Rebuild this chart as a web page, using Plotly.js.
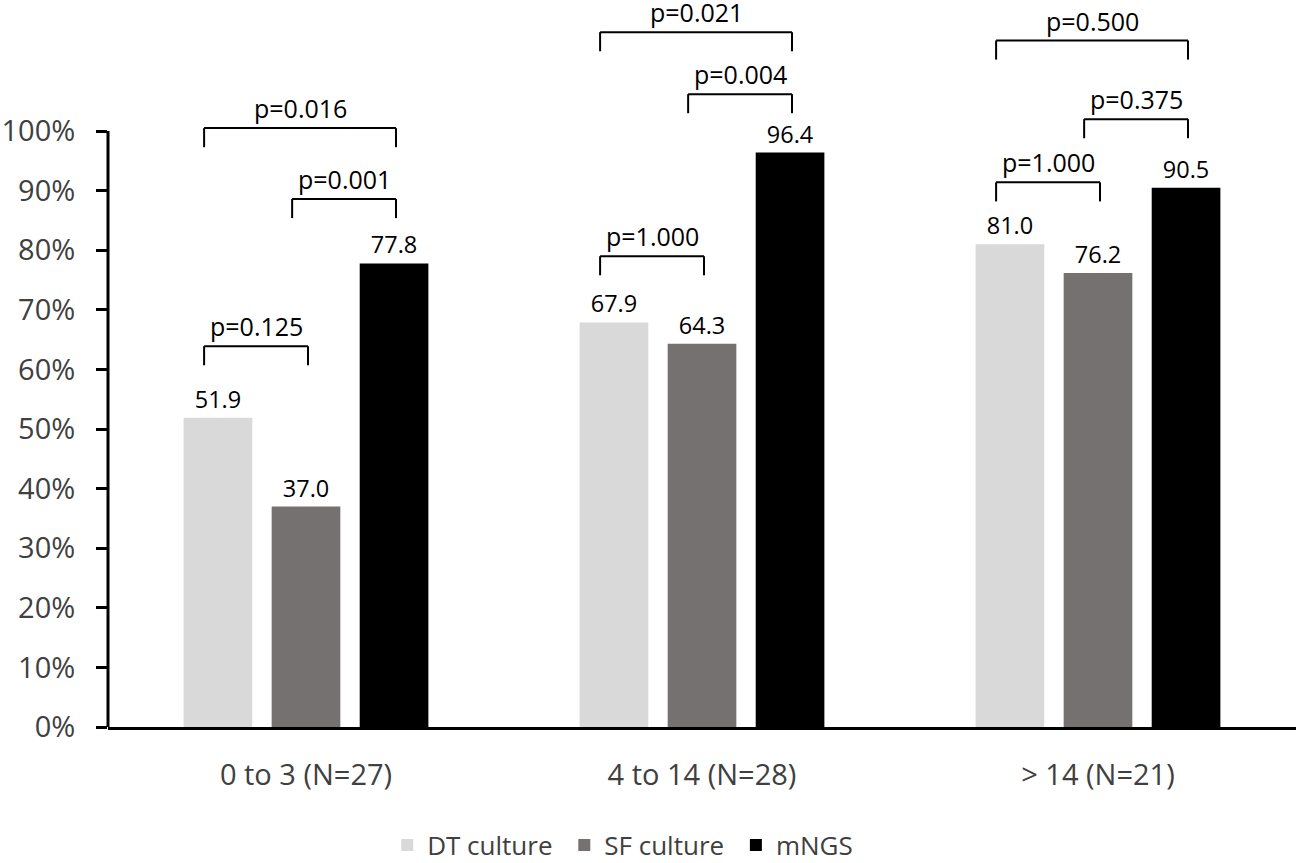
<!DOCTYPE html>
<html>
<head>
<meta charset="utf-8">
<script src="https://cdn.plot.ly/plotly-3.0.1.min.js"></script>
<style>
  html, body { margin: 0; padding: 0; background: #fff; }
  #chart { width: 1299px; height: 863px; }
</style>
</head>
<body>
<div id="chart"></div>
<script>
// categories and series
const groups = ['0 to 3 (N=27)', '4 to 14 (N=28)', '> 14 (N=21)'];
const seriesNames = ['DT culture', 'SF culture', 'mNGS'];
const dtCulture = [51.9, 67.9, 81.0];
const sfCulture = [37.0, 64.3, 76.2];
const mngs = [77.8, 96.4, 90.5];
const yTicks = [0, 10, 20, 30, 40, 50, 60, 70, 80, 90, 100];

// p-value brackets: group index, first bar, second bar, level (%), label
const bracketGroup = [0, 0, 0, 1, 1, 1, 2, 2, 2];
const bracketFrom = [0, 1, 0, 0, 1, 0, 0, 1, 0];
const bracketTo = [1, 2, 2, 1, 2, 2, 1, 2, 2];
const bracketLevel = [63.9, 88.6, 100.5, 79.0, 106.2, 116.6, 91.4, 102.0, 115.2];
const bracketLabel = ['p=0.125', 'p=0.001', 'p=0.016', 'p=1.000', 'p=0.004', 'p=0.021', 'p=1.000', 'p=0.375', 'p=0.500'];

const colors = ['#d9d9d9', '#767171', '#000000'];
const font = 'Open Sans, Noto Sans, sans-serif';
const bargap = 0.333;
const slot = (1 - bargap) / 3;
const barCenter = (g, s) => g + (s - 1) * slot;

const traces = [dtCulture, sfCulture, mngs].map((vals, i) => ({
    type: 'bar',
    // trailing no-break space widens the gap between legend entries a little
    name: seriesNames[i] + '\u00a0',
    x: groups,
    y: vals,
    marker: { color: colors[i] },
    text: vals.map(v => v.toFixed(1)),
    textposition: 'outside',
    textfont: { family: font, size: 23.5, color: '#000' },
    cliponaxis: false,
    hoverinfo: 'skip'
}));

const legLen = 3.2;
const shapes = [];
const annotations = [];
bracketLevel.forEach((lvl, k) => {
    const x0 = barCenter(bracketGroup[k], bracketFrom[k]) - 0.035;
    const x1 = barCenter(bracketGroup[k], bracketTo[k]) + 0.005;
    const ln = { color: '#000', width: 2 };
    shapes.push({ type: 'line', xref: 'x', yref: 'y', x0: x0, x1: x1, y0: lvl, y1: lvl, line: ln });
    shapes.push({ type: 'line', xref: 'x', yref: 'y', x0: x0, x1: x0, y0: lvl, y1: lvl - legLen, line: ln });
    shapes.push({ type: 'line', xref: 'x', yref: 'y', x0: x1, x1: x1, y0: lvl, y1: lvl - legLen, line: ln });
    annotations.push({
        x: (x0 + x1) / 2, y: lvl, xref: 'x', yref: 'y',
        text: bracketLabel[k], showarrow: false,
        yanchor: 'bottom', yshift: 1,
        font: { family: font, size: 25, color: '#000' }
    });
});

// y axis line only up to 100%
shapes.push({ type: 'line', xref: 'paper', yref: 'y', x0: 0, x1: 0, y0: 0, y1: 100,
    line: { color: '#000', width: 3 } });

const layout = {
    width: 1299,
    height: 863,
    margin: { l: 108, r: 3, t: 0, b: 136, autoexpand: false },
    paper_bgcolor: '#fff',
    plot_bgcolor: '#fff',
    bargap: bargap,
    bargroupgap: 0.22,
    showlegend: true,
    legend: {
        orientation: 'h',
        x: 0.235, xanchor: 'left',
        y: -0.13, yanchor: 'top',
        font: { family: font, size: 26, color: '#404040' },
        itemclick: false
    },
    xaxis: {
        type: 'category',
        showline: true,
        linecolor: '#000',
        linewidth: 3,
        ticks: '',
        ticklabelstandoff: 20,
        tickfont: { family: font, size: 29, color: '#404040' },
        showgrid: false,
        zeroline: false
    },
    yaxis: {
        range: [0, 122],
        tickvals: yTicks,
        ticktext: yTicks.map(v => v + '%'),
        ticks: 'outside',
        ticklen: 11,
        tickwidth: 3,
        tickcolor: '#000',
        ticklabelstandoff: 15,
        tickfont: { family: font, size: 29, color: '#404040' },
        showline: false,
        showgrid: false,
        zeroline: false
    },
    shapes: shapes,
    annotations: annotations
};

Plotly.newPlot('chart', traces, layout, { displayModeBar: false, staticPlot: true });
</script>
</body>
</html>
